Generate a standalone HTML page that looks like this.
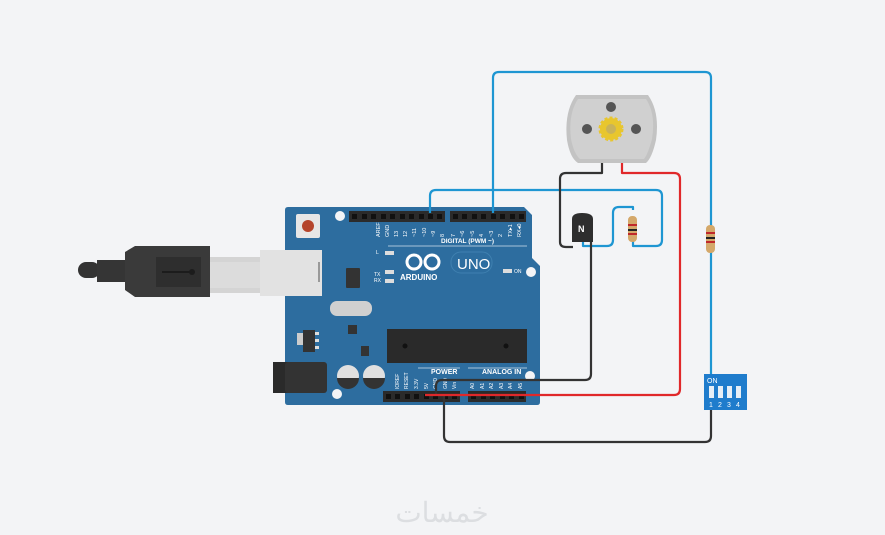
<!DOCTYPE html>
<html><head><meta charset="utf-8"><style>
html,body{margin:0;padding:0;background:#f3f4f6;}
svg{display:block;}
text{font-family:"Liberation Sans",sans-serif;}
</style></head><body>
<svg width="885" height="535" viewBox="0 0 885 535" xmlns="http://www.w3.org/2000/svg">
<rect width="885" height="535" fill="#f3f4f6"/>
<!-- USB cable -->
<rect x="210" y="257" width="55" height="36" fill="#d4d4d4"/>
<rect x="210" y="262" width="55" height="26" fill="#dcdcdc"/>
<rect x="78" y="262" width="22" height="16" rx="8" fill="#333"/>
<rect x="97" y="260" width="30" height="22" fill="#353535"/>
<path d="M125 252 L135 246 L210 246 L210 297 L135 297 L125 290 Z" fill="#3a3a3a"/>
<rect x="156" y="257" width="45" height="30" fill="#2e2e2e"/>
<path d="M162 272 H190" stroke="#1c1c1c" stroke-width="2"/>
<circle cx="192" cy="272" r="3" fill="#1c1c1c"/>
<!-- Board -->
<path d="M288 207 H524 L532 215 V258 L540 266 V402 Q540 405 537 405 H288 Q285 405 285 402 V210 Q285 207 288 207 Z" fill="#2d6d9f"/>
<circle cx="340" cy="216" r="5" fill="#f3f4f6"/>
<circle cx="531" cy="272" r="5" fill="#f3f4f6"/>
<circle cx="530" cy="376" r="5" fill="#f3f4f6"/>
<circle cx="337" cy="394" r="5" fill="#f3f4f6"/>
<rect x="296" y="214" width="24" height="24" rx="2" fill="#e6e6e6"/>
<circle cx="308" cy="226" r="6" fill="#b5442b"/>
<rect x="260" y="250" width="62" height="46" fill="#e2e2e2"/>
<rect x="318" y="262" width="2" height="20" fill="#999"/>
<!-- headers -->
<rect x="349" y="211" width="96" height="11" fill="#2b2b2b"/>
<rect x="450" y="211" width="76" height="11" fill="#2b2b2b"/>
<rect x="383" y="391" width="77" height="11" fill="#2b2b2b"/>
<rect x="468" y="391" width="58" height="11" fill="#2b2b2b"/>
<g fill="#111">
<rect x="352" y="214" width="5" height="5"/><rect x="362" y="214" width="5" height="5"/><rect x="371" y="214" width="5" height="5"/><rect x="381" y="214" width="5" height="5"/><rect x="390" y="214" width="5" height="5"/><rect x="400" y="214" width="5" height="5"/><rect x="409" y="214" width="5" height="5"/><rect x="419" y="214" width="5" height="5"/><rect x="428" y="214" width="5" height="5"/><rect x="437" y="214" width="5" height="5"/>
<rect x="453" y="214" width="5" height="5"/><rect x="462" y="214" width="5" height="5"/><rect x="472" y="214" width="5" height="5"/><rect x="481" y="214" width="5" height="5"/><rect x="491" y="214" width="5" height="5"/><rect x="500" y="214" width="5" height="5"/><rect x="510" y="214" width="5" height="5"/><rect x="519" y="214" width="5" height="5"/>
<rect x="386" y="394" width="5" height="5"/><rect x="395" y="394" width="5" height="5"/><rect x="405" y="394" width="5" height="5"/><rect x="414" y="394" width="5" height="5"/><rect x="424" y="394" width="5" height="5"/><rect x="433" y="394" width="5" height="5"/><rect x="443" y="394" width="5" height="5"/><rect x="452" y="394" width="5" height="5"/>
<rect x="471" y="394" width="5" height="5"/><rect x="481" y="394" width="5" height="5"/><rect x="490" y="394" width="5" height="5"/><rect x="500" y="394" width="5" height="5"/><rect x="509" y="394" width="5" height="5"/><rect x="519" y="394" width="5" height="5"/>
</g>
<g fill="#fff" font-size="5.5">
<text x="380" y="237" transform="rotate(-90 380 237)">AREF</text>
<text x="389" y="237" transform="rotate(-90 389 237)">GND</text>
<text x="398" y="237" transform="rotate(-90 398 237)">13</text>
<text x="407" y="237" transform="rotate(-90 407 237)">12</text>
<text x="416" y="237" transform="rotate(-90 416 237)">~11</text>
<text x="426" y="237" transform="rotate(-90 426 237)">~10</text>
<text x="435" y="237" transform="rotate(-90 435 237)">~9</text>
<text x="444" y="237" transform="rotate(-90 444 237)">8</text>
<text x="455" y="237" transform="rotate(-90 455 237)">7</text>
<text x="464" y="237" transform="rotate(-90 464 237)">~6</text>
<text x="474" y="237" transform="rotate(-90 474 237)">~5</text>
<text x="483" y="237" transform="rotate(-90 483 237)">4</text>
<text x="493" y="237" transform="rotate(-90 493 237)">~3</text>
<text x="502" y="237" transform="rotate(-90 502 237)">2</text>
<text x="512" y="237" transform="rotate(-90 512 237)">TX▸1</text>
<text x="521" y="237" transform="rotate(-90 521 237)">RX◂0</text>
<text x="441" y="243" font-size="6.5" font-weight="bold">DIGITAL (PWM ~)</text>
<text x="374" y="276" font-size="5">TX</text><text x="374" y="282" font-size="5">RX</text><text x="376" y="254" font-size="5">L</text>
<text x="400" y="280" font-size="8" font-weight="bold">ARDUINO</text>
<text x="457" y="269" font-size="15">UNO</text>
<text x="514" y="273" font-size="5">ON</text>
<text x="431" y="374" font-size="7" font-weight="bold">POWER</text>
<text x="482" y="374" font-size="7" font-weight="bold">ANALOG IN</text>
</g>
<path d="M388 246 H527 M418 368 H460 M468 368 H527" stroke="#cfe0ee" stroke-width="0.8"/>
<g fill="#ddd"><rect x="385" y="251" width="9" height="4"/><rect x="385" y="270" width="9" height="4"/><rect x="385" y="279" width="9" height="4"/><rect x="503" y="269" width="9" height="4"/></g>
<circle cx="414" cy="262" r="7" fill="none" stroke="#fff" stroke-width="3"/>
<circle cx="432" cy="262" r="7" fill="none" stroke="#fff" stroke-width="3"/>
<rect x="451" y="252" width="41" height="21" rx="10" fill="none" stroke="#3f80b0" stroke-width="1"/>
<rect x="346" y="268" width="14" height="20" rx="1" fill="#333"/>
<rect x="330" y="301" width="42" height="15" rx="7" fill="#d0d0d0"/>
<rect x="348" y="325" width="9" height="9" fill="#333"/>
<rect x="297" y="333" width="6" height="12" fill="#ccc"/>
<rect x="303" y="330" width="12" height="22" fill="#333"/>
<rect x="315" y="332" width="4" height="3" fill="#ddd"/><rect x="315" y="339" width="4" height="3" fill="#ddd"/><rect x="315" y="346" width="4" height="3" fill="#ddd"/>
<rect x="361" y="346" width="8" height="10" fill="#333"/>
<rect x="273" y="362" width="18" height="31" fill="#2a2a2a"/>
<rect x="285" y="362" width="42" height="31" rx="3" fill="#333"/>
<circle cx="348" cy="376" r="11" fill="#e0e0e0"/><path d="M337 378 A11 11 0 0 0 359 378 Z" fill="#333"/>
<circle cx="374" cy="376" r="11" fill="#e0e0e0"/><path d="M363 378 A11 11 0 0 0 385 378 Z" fill="#333"/>
<rect x="387" y="329" width="140" height="34" fill="#2a2a2a"/>
<circle cx="405" cy="346" r="2.5" fill="#111"/><circle cx="506" cy="346" r="2.5" fill="#111"/>
<g fill="#fff" font-size="5">
<text x="399" y="389" transform="rotate(-90 399 389)">IOREF</text>
<text x="408" y="389" transform="rotate(-90 408 389)">RESET</text>
<text x="418" y="389" transform="rotate(-90 418 389)">3.3V</text>
<text x="428" y="389" transform="rotate(-90 428 389)">5V</text>
<text x="437" y="389" transform="rotate(-90 437 389)">GND</text>
<text x="447" y="389" transform="rotate(-90 447 389)">GND</text>
<text x="456" y="389" transform="rotate(-90 456 389)">Vin</text>
<text x="474" y="389" transform="rotate(-90 474 389)">A0</text><text x="484" y="389" transform="rotate(-90 484 389)">A1</text><text x="493" y="389" transform="rotate(-90 493 389)">A2</text><text x="503" y="389" transform="rotate(-90 503 389)">A3</text><text x="512" y="389" transform="rotate(-90 512 389)">A4</text><text x="522" y="389" transform="rotate(-90 522 389)">A5</text>
</g>
<!-- Motor -->
<path d="M576 95 H648 Q660 112 656 140 Q652 158 646 163 H578 Q570 158 567 140 Q564 112 576 95 Z" fill="#c3c3c3"/>
<path d="M578 99 H646 Q656 114 652 139 Q648 154 644 159 H580 Q574 154 571 139 Q568 114 578 99 Z" fill="#d0d0d0"/>
<circle cx="611" cy="107" r="5" fill="#555"/><circle cx="587" cy="129" r="5" fill="#555"/><circle cx="636" cy="129" r="5" fill="#555"/>
<circle cx="611" cy="129" r="11" fill="#e8c62e" stroke="#e8c62e" stroke-width="3" stroke-dasharray="3 2"/>
<circle cx="611" cy="129" r="5" fill="#c9b35a"/>
<!-- wires -->
<g fill="none" stroke-width="2.2" stroke-linejoin="round">
<path d="M430 213 V196 Q430 190 436 190 H656 Q662 190 662 196 V240 Q662 246 656 246 H633 V238" stroke="#1e96d2"/>
<path d="M633 210 V207 H619 Q613 207 613 213 V240 Q613 246 607 246 H583 V238" stroke="#1e96d2"/>
<path d="M493 213 V78 Q493 72 499 72 H705 Q711 72 711 78 V376" stroke="#1e96d2"/>
<path d="M602 163 V173 H566 Q560 173 560 179 V242 Q560 247 566 247 H573" stroke="#333"/>
<path d="M591 240 V374 Q591 380 585 380 H442 Q436 380 436 386 V396" stroke="#333"/>
<path d="M444 396 V436 Q444 442 450 442 H705 Q711 442 711 436 V408" stroke="#333"/>
<path d="M622 163 V173 H674 Q680 173 680 179 V389 Q680 395 674 395 H425" stroke="#e0282a"/>
</g>
<path d="M572 219 Q572 213 582 213 Q593 213 593 219 V242 H572 Z" fill="#2e2e2e"/>
<text x="578" y="232" fill="#fff" font-size="9" font-weight="bold">N</text>
<rect x="628" y="216" width="9" height="26" rx="4" fill="#d4a86a"/>
<rect x="628" y="224" width="9" height="2" fill="#c0282a"/><rect x="628" y="229" width="9" height="2" fill="#222"/><rect x="628" y="233" width="9" height="2" fill="#c0282a"/>
<rect x="706" y="225" width="9" height="28" rx="4" fill="#d4a86a"/>
<rect x="706" y="232" width="9" height="2" fill="#c0282a"/><rect x="706" y="237" width="9" height="2" fill="#222"/><rect x="706" y="241" width="9" height="2" fill="#c0282a"/>
<rect x="704" y="374" width="43" height="36" fill="#1f7ccc"/>
<text x="707" y="383" fill="#fff" font-size="7">ON</text>
<g fill="#e6eef6"><rect x="709" y="386" width="5" height="12"/><rect x="718" y="386" width="5" height="12"/><rect x="727" y="386" width="5" height="12"/><rect x="736" y="386" width="5" height="12"/></g>
<g fill="#fff" font-size="7"><text x="709" y="407">1</text><text x="718" y="407">2</text><text x="727" y="407">3</text><text x="736" y="407">4</text></g>
<text x="442" y="522" fill="#dcdee1" font-size="28" text-anchor="middle" font-family="'DejaVu Sans',sans-serif">خمسات</text>
</svg>
</body></html>
